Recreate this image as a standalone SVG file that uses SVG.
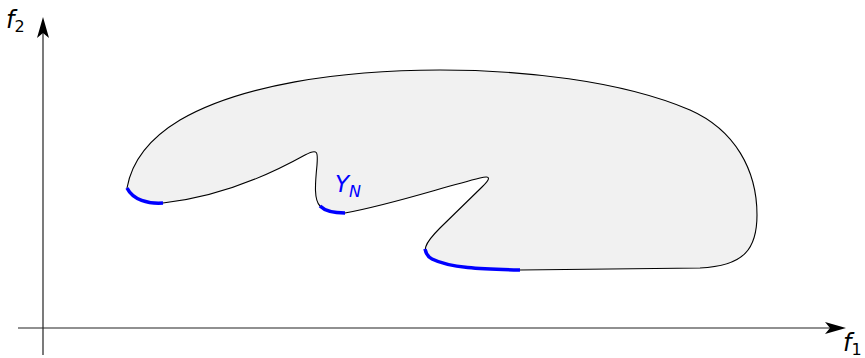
<svg xmlns="http://www.w3.org/2000/svg" width="865" height="358" viewBox="0 0 865 358">
<style>
.axis{stroke:#222;stroke-width:1.2;fill:none}
.head{fill:#000}
.lbl{font-family:"DejaVu Sans","Liberation Sans",sans-serif;font-style:italic;font-size:24px;fill:#000}
.sub{font-family:"DejaVu Sans","Liberation Sans",sans-serif;font-size:16px;fill:#000}
.blue{stroke:#0000ff;stroke-width:3.5;fill:none;stroke-linecap:butt}
</style>
<g id="region">
<path d="M127,188 C133,200 148,204 163,203 C210,198 260,180 305,155 C318,148 318,152 317,165 C315,185 314,200 320,206 C326,212 335,213 345,213 C390,205 440,188 480,178 C492,175 490,179 482,187 L440,228 C425,243 420,252 432,259 C450,268 480,269 520,270 L700,268 C745,266 757,248 757,215 C757,170 735,130 690,110 C620,80 520,70 440,70 C340,70 240,85 180,120 C150,138 132,160 127,188 Z" fill="#f1f1f1" stroke="#000" stroke-width="1.1"/>
</g>
<g id="pareto">
<path class="blue" d="M127,188 C133,200 148,204 163,203"/>
<path class="blue" d="M320,206 C326,212 335,213 345,213"/>
<path class="blue" d="M425,249 C426,254 428,257 432,259 C450,268 480,269 520,270"/>
<text x="335" y="192" font-family="DejaVu Sans, Liberation Sans, sans-serif" font-style="italic" font-size="23" fill="#0000ff">Y<tspan font-size="16" dy="5">N</tspan></text>
</g>
<g id="axes">
<line class="axis" x1="43" y1="355" x2="43" y2="30"/>
<path class="head" d="M43,17 L49,38 L43,33 L37,38 Z"/>
<line class="axis" x1="18" y1="328" x2="832" y2="328"/>
<path class="head" d="M846,328 L825,334 L830,328 L825,322 Z"/>
</g>
<g id="labels">
<text class="lbl" x="6" y="28">f<tspan class="sub" font-style="normal" dy="4">2</tspan></text>
<text class="lbl" x="843" y="351">f<tspan class="sub" font-style="normal" dy="4">1</tspan></text>
</g>
</svg>
